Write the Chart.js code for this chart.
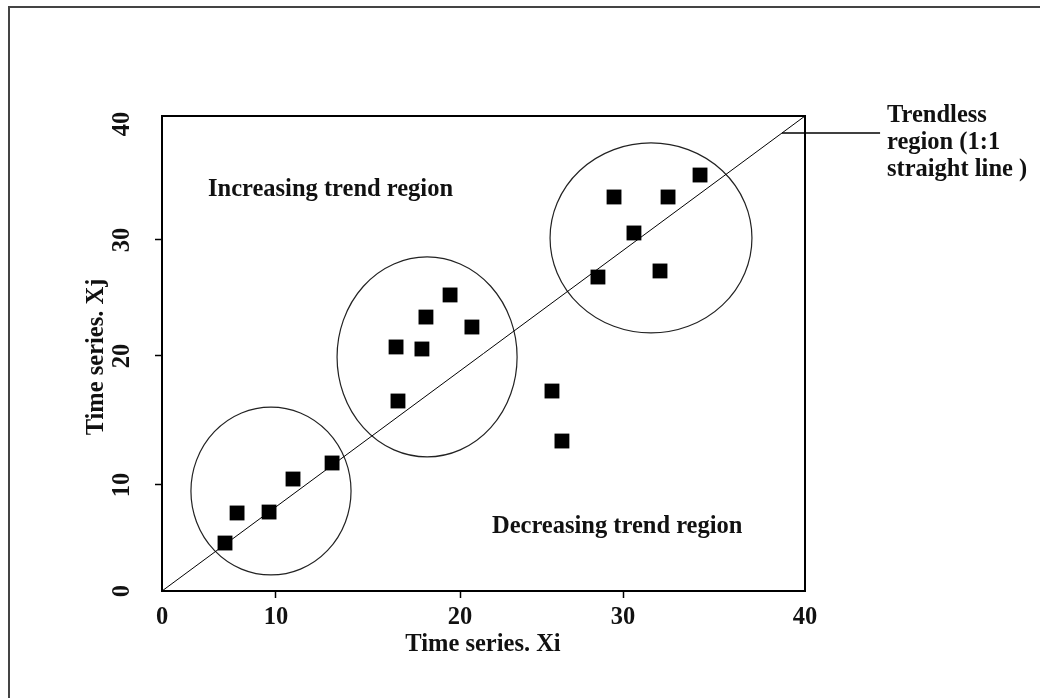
<!DOCTYPE html>
<html>
<head>
<meta charset="utf-8">
<script src="https://cdn.jsdelivr.net/npm/chart.js@4.4.3/dist/chart.umd.min.js"></script>
<style>
  html, body { margin: 0; padding: 0; background: #fff; }
  #wrap { width: 1040px; height: 698px; position: relative; }
</style>
</head>
<body>
<div id="wrap"><canvas id="chart"></canvas></div>
<script>
// axis values are in plot units; the tick marks of the original sit unevenly
const xTickValues = [0, 7.09, 18.54, 28.68, 40];
const xTickLabels = ['0', '10', '20', '30', '40'];
const yTickValues = [0, 8.93, 19.79, 29.56, 40];
const yTickLabels = ['0', '10', '20', '30', '40'];

// observed pairs (Xi, Xj)
const pointX = [3.92, 4.67, 6.66, 8.15, 10.58,
                17.92, 16.42, 19.28, 14.56, 16.17, 14.68,
                24.26, 24.88,
                33.47, 28.12, 31.48, 29.36, 27.12, 30.98];
const pointY = [4.04, 6.57, 6.65, 9.43, 10.78,
                24.93, 23.07, 22.23, 20.55, 20.38, 16.0,
                16.84, 12.63,
                35.03, 33.18, 33.18, 30.15, 26.44, 26.95];

// 1:1 line and its label leader
const lineX = [0, 40];
const lineY = [0, 40];
const leaderX = [38.57, 44.67];
const leaderY = [38.57, 38.57];

// cluster circles (centre and radii in plot units)
const circleCX = [6.78, 16.49, 30.42];
const circleCY = [8.42, 19.71, 29.73];
const circleRX = [4.98, 5.60, 6.28];
const circleRY = [7.07, 8.42, 8.0];

const FAMILY = '"Liberation Serif", "Times New Roman", serif';
const FONT = 'bold 24.5px ' + FAMILY;
const INK = '#111';

const toXY = (xs, ys) => xs.map((x, i) => ({ x: x, y: ys[i] }));

const extras = {
    id: 'extras',
    beforeDatasetsDraw(chart) {
        const ctx = chart.ctx;
        const sx = chart.scales.x, sy = chart.scales.y;
        ctx.save();
        ctx.strokeStyle = '#222';
        ctx.lineWidth = 1.2;
        circleCX.forEach((cx, i) => {
            const px = sx.getPixelForValue(cx);
            const py = sy.getPixelForValue(circleCY[i]);
            const rx = sx.getPixelForValue(cx + circleRX[i]) - px;
            const ry = py - sy.getPixelForValue(circleCY[i] + circleRY[i]);
            ctx.beginPath();
            ctx.ellipse(px, py, rx, ry, 0, 0, Math.PI * 2);
            ctx.stroke();
        });
        ctx.restore();
    },
    afterDraw(chart) {
        const ctx = chart.ctx;
        const a = chart.chartArea;
        const sy = chart.scales.y;
        ctx.save();

        // frame round the figure
        ctx.strokeStyle = '#444';
        ctx.lineWidth = 2;
        ctx.beginPath();
        ctx.moveTo(9, 698);
        ctx.lineTo(9, 7);
        ctx.lineTo(1040, 7);
        ctx.stroke();

        // plot box
        ctx.strokeStyle = '#000';
        ctx.lineWidth = 2;
        ctx.strokeRect(a.left, a.top, a.right - a.left, a.bottom - a.top);

        ctx.fillStyle = INK;
        ctx.font = FONT;
        ctx.textAlign = 'center';
        ctx.textBaseline = 'middle';

        // y tick labels, turned
        yTickValues.forEach((v, i) => {
            const py = Math.max(sy.getPixelForValue(v), a.top + 8);
            ctx.save();
            ctx.translate(123, py);
            ctx.rotate(-Math.PI / 2);
            ctx.fillText(yTickLabels[i], 0, 0);
            ctx.restore();
        });

        // axis titles
        ctx.fillText('Time series. Xi', 483, 645);
        ctx.save();
        ctx.translate(97, 357);
        ctx.rotate(-Math.PI / 2);
        ctx.fillText('Time series. Xj', 0, 0);
        ctx.restore();

        // region notes
        ctx.textAlign = 'left';
        ctx.fillText('Increasing trend region', 208, 190);
        ctx.fillText('Decreasing trend region', 492, 527);
        ctx.fillText('Trendless', 887, 116);
        ctx.fillText('region (1:1', 887, 143);
        ctx.fillText('straight line )', 887, 170);

        ctx.restore();
    }
};

new Chart(document.getElementById('chart'), {
    type: 'scatter',
    data: {
        datasets: [
            {
                label: 'points',
                data: toXY(pointX, pointY),
                pointStyle: 'rect',
                pointRadius: 10.5,
                backgroundColor: '#000',
                borderWidth: 0
            },
            {
                label: '1:1 line',
                data: toXY(lineX, lineY),
                showLine: true,
                pointRadius: 0,
                borderColor: '#000',
                borderWidth: 1
            },
            {
                label: 'leader',
                data: toXY(leaderX, leaderY),
                showLine: true,
                pointRadius: 0,
                borderColor: '#000',
                borderWidth: 1.5,
                clip: false
            }
        ]
    },
    options: {
        responsive: true,
        maintainAspectRatio: false,
        animation: false,
        layout: { padding: { top: 116, right: 235, left: 0, bottom: 0 } },
        plugins: { legend: { display: false }, tooltip: { enabled: false } },
        scales: {
            x: {
                type: 'linear',
                min: 0,
                max: 40,
                afterBuildTicks: s => { s.ticks = xTickValues.map(v => ({ value: v })); },
                afterFit: s => { s.height = 107; },
                ticks: {
                    callback: (v, i) => xTickLabels[i],
                    font: { family: FAMILY, size: 24.5, weight: 'bold' },
                    color: INK,
                    padding: 5,
                    maxRotation: 0,
                    autoSkip: false
                },
                grid: {
                    drawOnChartArea: false,
                    tickLength: 7,
                    tickWidth: 1.5,
                    tickColor: c => (c.index === 0 || c.index === xTickValues.length - 1) ? 'rgba(0,0,0,0)' : '#000'
                },
                border: { display: true, color: '#000', width: 2 }
            },
            y: {
                type: 'linear',
                min: 0,
                max: 40,
                afterBuildTicks: s => { s.ticks = yTickValues.map(v => ({ value: v })); },
                afterFit: s => { s.width = 162; },
                ticks: { display: false },
                grid: {
                    drawOnChartArea: false,
                    tickLength: 7,
                    tickWidth: 1.5,
                    tickColor: c => (c.index === 0 || c.index === yTickValues.length - 1) ? 'rgba(0,0,0,0)' : '#000'
                },
                border: { display: true, color: '#000', width: 2 }
            }
        }
    },
    plugins: [extras]
});
</script>
</body>
</html>
